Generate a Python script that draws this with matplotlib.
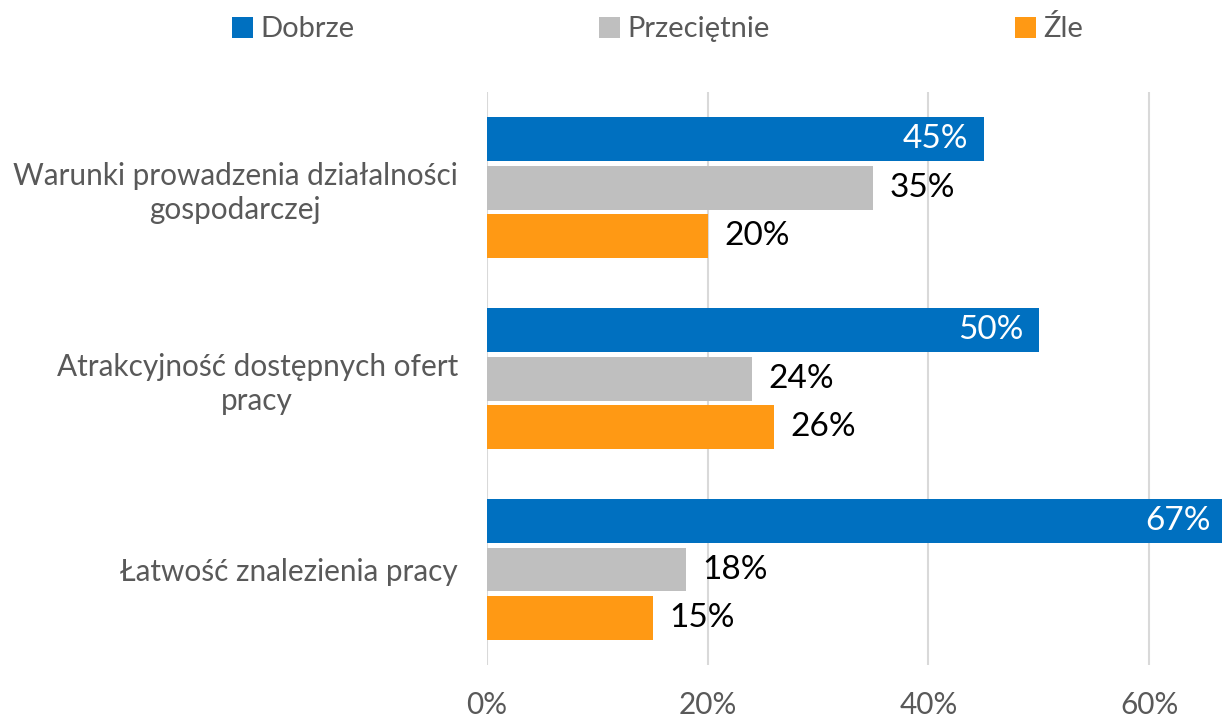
import matplotlib
matplotlib.use("Agg")
import matplotlib.pyplot as plt
import numpy as np

plt.rcParams['font.family'] = ['Lato', 'DejaVu Sans']

# Data
categories = ["Warunki prowadzenia działalności\ngospodarczej",
              "Atrakcyjność dostępnych ofert\npracy",
              "Łatwość znalezienia pracy"]
series_names = ["Dobrze", "Przeciętnie", "Źle"]
dobrze = [45, 50, 67]
przecietnie = [35, 24, 18]
zle = [20, 26, 15]
xticks = [0, 20, 40, 60]

colors = ['#0070C0', '#BFBFBF', '#FF9914']
label_colors = ['white', 'black', 'black']
text_gray = '#595959'

fig = plt.figure(figsize=(12.22, 7.21), dpi=100)
ax = fig.add_axes([0.3985, 0.0777, 0.6015, 0.7943])

y = np.arange(len(categories))
offsets = [-0.254, 0, 0.254]
h = 0.23
for i, vals in enumerate([dobrze, przecietnie, zle]):
    bars = ax.barh(y + offsets[i], vals, height=h, color=colors[i],
                   label=series_names[i], zorder=3)
    for b, v in zip(bars, vals):
        if i == 0:
            ax.text(v - 1.4, b.get_y() + h / 2, f"{v}%", ha='right', va='center',
                    color=label_colors[i], fontsize=24, zorder=4)
        else:
            ax.text(v + 1.5, b.get_y() + h / 2, f"{v}%", ha='left', va='center',
                    color=label_colors[i], fontsize=24, zorder=4)

ax.set_xlim(0, 66.6)
ax.set_ylim(2.5, -0.5)
ax.set_xticks(xticks)
ax.set_xticklabels([f"{t}%" for t in xticks])
ax.set_yticks(y)
ax.set_yticklabels(categories, linespacing=1.25, ha='right', multialignment='center')
ax.tick_params(axis='y', length=0, pad=21, labelsize=21.4, labelcolor=text_gray)
ax.tick_params(axis='x', length=0, pad=19, labelsize=21.4, labelcolor=text_gray)
ax.xaxis.grid(True, color='#D9D9D9', linewidth=1.5, zorder=0)
for s in ax.spines.values():
    s.set_visible(False)

fig.legend(loc='lower left', bbox_to_anchor=(0.18, 0.925, 0.716, 0.06), mode='expand',
           ncol=3, frameon=False, fontsize=21, handlelength=0.72, handleheight=0.72,
           handletextpad=0.25, borderaxespad=0, labelcolor=text_gray)

fig.savefig("out.png", dpi=100)
